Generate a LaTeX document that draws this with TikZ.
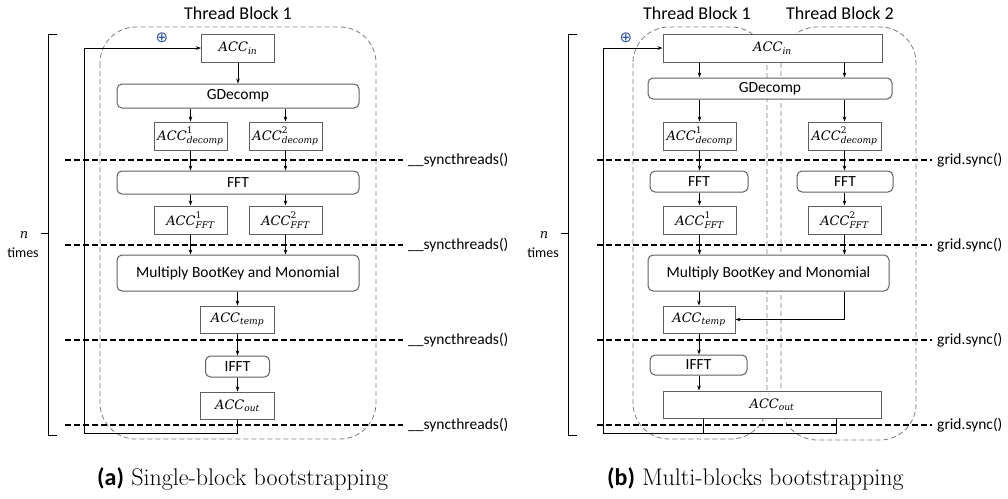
\documentclass[tikz,border=0pt]{standalone}
\usepackage{amsmath}
\usepackage{fontspec}
\newfontfamily\carl{Carlito}
\newfontfamily\camb{DejaVu Serif}
\newfontfamily\djs{DejaVu Sans}
\newcommand\ci[1]{\text{\camb\itshape #1}}
\newcommand\cu[1]{\text{\camb #1}}
\usetikzlibrary{arrows.meta}
\definecolor{boxgray}{RGB}{95,95,95}
\definecolor{tbgray}{RGB}{125,125,125}
\definecolor{plusblue}{RGB}{47,85,151}
\begin{document}
\begin{tikzpicture}[x=1pt,y=-1pt,
  font=\carl\fontsize{15.5}{18}\selectfont,
  box/.style={draw=boxgray, line width=1pt, inner sep=0pt, fill=white},
  rbox/.style={box, rounded corners=5pt},
  acc/.style={font=\fontsize{13}{15}\selectfont},
  arr/.style={-{Stealth[length=5pt,width=3.6pt]}, line width=0.8pt},
  ln/.style={line width=0.9pt},
  sync/.style={line width=1.5pt, dash pattern=on 6pt off 3pt},
  tb/.style={draw=tbgray, line width=0.8pt, dash pattern=on 5pt off 3pt, rounded corners=36pt},
  ttl/.style={font=\carl\fontsize{18}{21}\selectfont},
  lbl/.style={anchor=west, inner sep=5pt},
  capt/.style={anchor=base west, inner sep=0pt, font=\fontsize{24}{28}\selectfont},
  plus/.style={text=plusblue, inner sep=0pt, font=\djs\fontsize{15}{16}\selectfont},
  ]
\useasboundingbox (0,0) rectangle (1008,498);

% ================= (a) =================
\draw[tb] (100,27) rectangle (376,439);
\node[ttl] (ta) at (238,13) {Thread Block 1};

% sync lines
\node[lbl] (sa1) at (403,160) {\_\_syncthreads()};
\node[lbl] (sa2) at (403,245) {\_\_syncthreads()};
\node[lbl] (sa3) at (403,340) {\_\_syncthreads()};
\node[lbl] (sa4) at (403,425) {\_\_syncthreads()};
\coordinate (la1) at (65,160);
\coordinate (la2) at (65,245);
\coordinate (la3) at (65,340);
\coordinate (la4) at (65,425);
\draw[sync] (la1) -- (sa1.west);
\draw[sync] (la2) -- (sa2.west);
\draw[sync] (la3) -- (sa3.west);
\draw[sync] (la4) -- (sa4.west);

% boxes
\node[box, acc, minimum width=73pt, minimum height=28pt] (aina) at (238,48) {$\ci{ACC}_{\ci{in}}$};
\node[rbox, minimum width=242pt, minimum height=24pt] (gda) at (238,96) {GDecomp};
\node[box, acc, minimum width=73pt, minimum height=28pt] (d1a) at (190.5,136) {$\ci{ACC}^{\cu{1}}_{\ci{decomp}}$};
\node[box, acc, minimum width=73pt, minimum height=28pt] (d2a) at (285.5,136) {$\ci{ACC}^{\cu{2}}_{\ci{decomp}}$};
\node[rbox, minimum width=242pt, minimum height=23pt] (ffta) at (238,182.5) {FFT};
\node[box, acc, minimum width=73pt, minimum height=28pt] (f1a) at (190.5,220) {$\ci{ACC}^{\cu{1}}_{\ci{FFT}}$};
\node[box, acc, minimum width=73pt, minimum height=28pt] (f2a) at (285.5,220) {$\ci{ACC}^{\cu{2}}_{\ci{FFT}}$};
\node[rbox, minimum width=242pt, minimum height=36pt] (mula) at (238,273) {Multiply BootKey and Monomial};
\node[box, acc, minimum width=74pt, minimum height=27pt] (tmpa) at (237.5,319.5) {$\ci{ACC}_{\ci{temp}}$};
\node[rbox, minimum width=64pt, minimum height=21pt] (iffta) at (237.5,366.5) {IFFT};
\node[box, acc, minimum width=74pt, minimum height=27pt] (outa) at (237.5,405.5) {$\ci{ACC}_{\ci{out}}$};

% arrows
\draw[arr] (aina.south) -- (gda.north -| aina);
\draw[arr] (gda.south -| d1a) -- (d1a.north);
\draw[arr] (gda.south -| d2a) -- (d2a.north);
\draw[arr] (d1a.south) -- (ffta.north -| d1a);
\draw[arr] (d2a.south) -- (ffta.north -| d2a);
\draw[arr] (ffta.south -| f1a) -- (f1a.north);
\draw[arr] (ffta.south -| f2a) -- (f2a.north);
\draw[arr] (f1a.south) -- (mula.north -| f1a);
\draw[arr] (f2a.south) -- (mula.north -| f2a);
\draw[arr] (mula.south -| tmpa) -- (tmpa.north);
\draw[arr] (tmpa.south) -- (iffta.north);
\draw[arr] (iffta.south) -- (outa.north);

% feedback
\coordinate (fa1) at (237.5,433);
\coordinate (fa2) at (84,433);
\draw[ln] (outa.south) -- (fa1) -- (fa2);
\draw[arr] (fa2) |- (aina.west);
\node[plus] (pla) at (162,38) {⊕};

% bracket
\draw[ln] (57,34) -- (48,34) -- (48,435) -- (57,435);
\draw[ln] (48,233) -- (41,233);
\node[acc] (na) at (24,235) {$\ci{n}$};
\node[font=\carl\fontsize{14}{16}\selectfont] (tia) at (23,253) {times};

\node[capt] (capa) at (97,485) {{\carl\bfseries (a)}\ Single-block bootstrapping};

% ================= (b) =================
\draw[tb] (633,27) rectangle (767,439);
\draw[tb] (781,27) rectangle (916,440);
\node[ttl] (tb1) at (697,13) {Thread Block 1};
\node[ttl] (tb2) at (840,13) {Thread Block 2};

\node[lbl] (sb1) at (932,160) {grid.sync()};
\node[lbl] (sb2) at (932,245) {grid.sync()};
\node[lbl] (sb3) at (932,340) {grid.sync()};
\node[lbl] (sb4) at (932,425) {grid.sync()};
\coordinate (lb1) at (597,160);
\coordinate (lb2) at (597,245);
\coordinate (lb3) at (597,340);
\coordinate (lb4) at (597,425);
\draw[sync] (lb1) -- (sb1.west);
\draw[sync] (lb2) -- (sb2.west);
\draw[sync] (lb3) -- (sb3.west);
\draw[sync] (lb4) -- (sb4.west);

\node[box, acc, minimum width=219pt, minimum height=28pt] (ainb) at (772.5,48) {$\ci{ACC}_{\ci{in}}$};
\node[rbox, minimum width=244pt, minimum height=21pt] (gdb) at (770,88.5) {GDecomp};
\node[box, acc, minimum width=73pt, minimum height=28pt] (d1b) at (699.5,136) {$\ci{ACC}^{\cu{1}}_{\ci{decomp}}$};
\node[box, acc, minimum width=73pt, minimum height=28pt] (d2b) at (844.5,136) {$\ci{ACC}^{\cu{2}}_{\ci{decomp}}$};
\node[rbox, minimum width=98pt, minimum height=21pt] (fft1b) at (699,181.5) {FFT};
\node[rbox, minimum width=96pt, minimum height=21pt] (fft2b) at (845,181.5) {FFT};
\node[box, acc, minimum width=73pt, minimum height=28pt] (f1b) at (699.5,220) {$\ci{ACC}^{\cu{1}}_{\ci{FFT}}$};
\node[box, acc, minimum width=73pt, minimum height=28pt] (f2b) at (844.5,220) {$\ci{ACC}^{\cu{2}}_{\ci{FFT}}$};
\node[rbox, minimum width=241pt, minimum height=36pt] (mulb) at (768.5,273) {Multiply BootKey and Monomial};
\node[box, acc, minimum width=72pt, minimum height=27pt] (tmpb) at (699,319.5) {$\ci{ACC}_{\ci{temp}}$};
\node[rbox, minimum width=97pt, minimum height=20pt] (ifftb) at (698.5,365) {IFFT};
\node[box, acc, minimum width=218pt, minimum height=27pt] (outb) at (772,404.5) {$\ci{ACC}_{\ci{out}}$};

\draw[arr] (ainb.south -| d1b) -- (gdb.north -| d1b);
\draw[arr] (ainb.south -| d2b) -- (gdb.north -| d2b);
\draw[arr] (gdb.south -| d1b) -- (d1b.north);
\draw[arr] (gdb.south -| d2b) -- (d2b.north);
\draw[arr] (d1b.south) -- (fft1b.north -| d1b);
\draw[arr] (d2b.south) -- (fft2b.north -| d2b);
\draw[arr] (fft1b.south -| f1b) -- (f1b.north);
\draw[arr] (fft2b.south -| f2b) -- (f2b.north);
\draw[arr] (f1b.south) -- (mulb.north -| f1b);
\draw[arr] (f2b.south) -- (mulb.north -| f2b);
\draw[arr] (mulb.south -| tmpb) -- (tmpb.north);
\draw[arr] (mulb.south -| f2b) |- (tmpb.east);
\draw[arr] (tmpb.south) -- (ifftb.north -| tmpb);
\draw[arr] (ifftb.south -| tmpb) -- (outb.north -| tmpb);

\coordinate (ob1) at (703,433);
\coordinate (ob2) at (836,433);
\coordinate (fb) at (603,433);
\draw[ln] (outb.south -| ob1) -- (ob1);
\draw[ln] (outb.south -| ob2) -- (ob2) -- (fb);
\draw[arr] (fb) |- (ainb.west);
\node[plus] (plb) at (626,38) {⊕};

\draw[ln] (577,34) -- (568,34) -- (568,435) -- (577,435);
\draw[ln] (568,233) -- (561,233);
\node[acc] (nb) at (544,235) {$\ci{n}$};
\node[font=\carl\fontsize{14}{16}\selectfont] (tib) at (543,253) {times};

\node[capt] (capb) at (607,485) {{\carl\bfseries (b)}\ Multi-blocks bootstrapping};
\end{tikzpicture}
\end{document}
